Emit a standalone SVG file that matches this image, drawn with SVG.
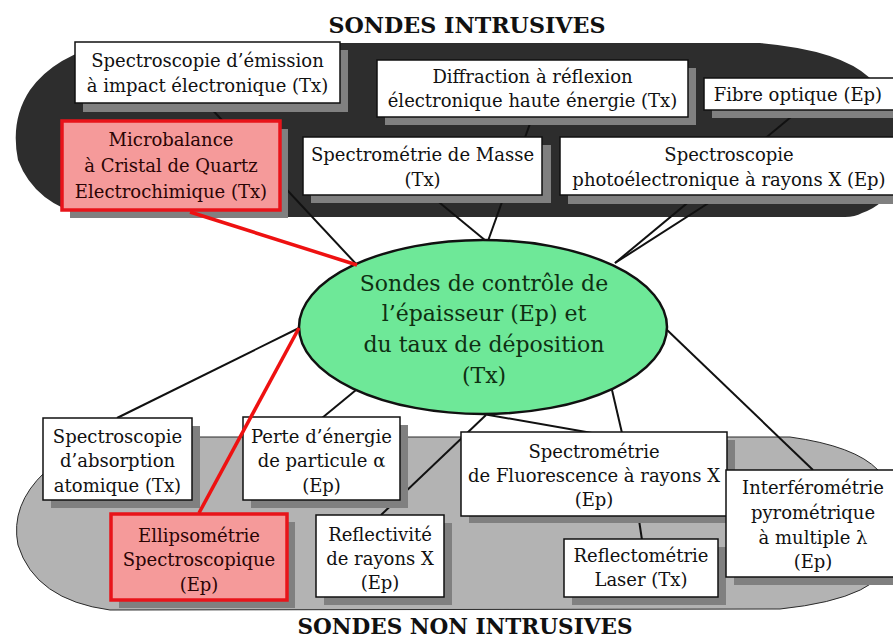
<svg xmlns="http://www.w3.org/2000/svg" width="893" height="641" viewBox="0 0 893 641">
<style>
.t{font-family:"DejaVu Serif","Liberation Serif",serif;font-size:18px;fill:#111;text-anchor:middle}
.tr{font-family:"DejaVu Serif","Liberation Serif",serif;font-size:18px;fill:#2a0505;text-anchor:middle}
.te{font-family:"DejaVu Serif","Liberation Serif",serif;font-size:22px;fill:#0f2f12;text-anchor:middle}
.title{font-family:"DejaVu Serif","Liberation Serif",serif;font-size:22px;font-weight:bold;fill:#111;text-anchor:middle}
.box{fill:#fff;stroke:#111;stroke-width:1.5}
.rbox{fill:#f59a9a;stroke:#e8141a;stroke-width:3.5}
.sh{fill:#808080}
.ln{stroke:#111;stroke-width:2;fill:none}
.rl{stroke:#ee1111;stroke-width:3.5;fill:none}
</style>
<rect width="893" height="641" fill="#fff"/>
<g id="background">
<path d="M110,43 L760,43 Q840,50 870,78 L893,110 L893,185 Q885,205 862,213 Q855,217 845,217 L90,217 Q35,205 18,160 Q10,120 30,90 Q55,55 110,43 Z" fill="#2d2d2d"/>
<path d="M150,437 L790,437 Q855,446 878,470 Q893,495 891,555 Q885,598 780,609 L110,610 Q35,600 18,545 Q10,505 45,472 Q80,440 150,437 Z" fill="#b3b3b3" stroke="#2a2a2a" stroke-width="1"/>
</g>
<text class="title" x="467" y="33" textLength="277" lengthAdjust="spacingAndGlyphs">SONDES INTRUSIVES</text>
<text class="title" x="465" y="634" textLength="335" lengthAdjust="spacingAndGlyphs">SONDES NON INTRUSIVES</text>
<g id="connectors">
<line class="ln" x1="207" y1="104" x2="357" y2="265"/>
<line class="ln" x1="532" y1="118" x2="488" y2="241"/>
<line class="ln" x1="400" y1="170" x2="486" y2="241"/>
<line class="ln" x1="760" y1="170" x2="615" y2="263"/>
<line class="ln" x1="797" y1="112" x2="615" y2="263"/>
<line class="ln" x1="665" y1="328" x2="813" y2="470"/>
<line class="ln" x1="612" y1="390" x2="622" y2="433"/>
<line class="ln" x1="483" y1="414" x2="592" y2="433"/>
<line class="ln" x1="486" y1="415" x2="381" y2="515"/>
<line class="ln" x1="356" y1="390" x2="322" y2="418"/>
<line class="ln" x1="299" y1="328" x2="117" y2="418"/>
<line class="ln" x1="639" y1="520" x2="642" y2="540"/>
</g>
<g id="n-center">
<ellipse cx="483" cy="327" rx="184" ry="87" fill="#6ee898" stroke="#111" stroke-width="2.5"/>
<text class="te" x="484" y="291">Sondes de contrôle de</text>
<text class="te" x="484" y="321">l’épaisseur (Ep) et</text>
<text class="te" x="484" y="352">du taux de déposition</text>
<text class="te" x="484" y="383">(Tx)</text>
</g>
<g id="n-emission">
<rect class="sh" x="83" y="50" width="265" height="62"/>
<rect class="box" x="75" y="42" width="265" height="61"/>
<text class="t" x="207.5" y="67">Spectroscopie d’émission</text>
<text class="t" x="207.5" y="92">à impact électronique (Tx)</text>
</g>
<g id="n-diffraction">
<rect class="sh" x="385" y="68" width="311" height="57"/>
<rect class="box" x="377" y="60" width="311" height="57"/>
<text class="t" x="532.5" y="83">Diffraction à réflexion</text>
<text class="t" x="532.5" y="107">électronique haute énergie (Tx)</text>
</g>
<g id="n-fibre">
<rect class="sh" x="712" y="86" width="190" height="32"/>
<rect class="box" x="704" y="78" width="195" height="32"/>
<text class="t" x="798" y="101">Fibre optique (Ep)</text>
</g>
<g id="n-microbalance">
<rect class="sh" x="70" y="129" width="218" height="89"/>
<rect class="rbox" x="62" y="121" width="218" height="89"/>
<text class="tr" x="171" y="146">Microbalance</text>
<text class="tr" x="171" y="172">à Cristal de Quartz</text>
<text class="tr" x="171" y="198">Electrochimique (Tx)</text>
</g>
<g id="n-masse">
<rect class="sh" x="311" y="145" width="240" height="58"/>
<rect class="box" x="303" y="137" width="239" height="58"/>
<text class="t" x="422.5" y="161">Spectrométrie de Masse</text>
<text class="t" x="422.5" y="186">(Tx)</text>
</g>
<g id="n-photo">
<rect class="sh" x="568" y="145" width="340" height="59"/>
<rect class="box" x="560" y="137" width="340" height="58"/>
<text class="t" x="729" y="161">Spectroscopie</text>
<text class="t" x="729" y="186">photoélectronique à rayons X (Ep)</text>
</g>
<g id="n-absorption">
<rect class="sh" x="51" y="426" width="149" height="82"/>
<rect class="box" x="43" y="418" width="149" height="82"/>
<text class="t" x="117.5" y="443">Spectroscopie</text>
<text class="t" x="117.5" y="467">d’absorption</text>
<text class="t" x="117.5" y="492">atomique (Tx)</text>
</g>
<g id="n-perte">
<rect class="sh" x="251" y="425" width="157" height="83"/>
<rect class="box" x="243" y="417" width="157" height="83"/>
<text class="t" x="321.5" y="443">Perte d’énergie</text>
<text class="t" x="321.5" y="467">de particule α</text>
<text class="t" x="321.5" y="492">(Ep)</text>
</g>
<g id="n-ellipsometrie">
<rect class="sh" x="119" y="522" width="176" height="86"/>
<rect class="rbox" x="111" y="514" width="176" height="86"/>
<text class="tr" x="199" y="542">Ellipsométrie</text>
<text class="tr" x="199" y="566">Spectroscopique</text>
<text class="tr" x="199" y="591">(Ep)</text>
</g>
<g id="n-reflectivite">
<rect class="sh" x="324" y="523" width="128" height="82"/>
<rect class="box" x="316" y="515" width="128" height="82"/>
<text class="t" x="380" y="541">Reflectivité</text>
<text class="t" x="380" y="565">de rayons X</text>
<text class="t" x="380" y="589">(Ep)</text>
</g>
<g id="n-fluorescence">
<rect class="sh" x="469" y="440" width="266" height="83"/>
<rect class="box" x="461" y="432" width="266" height="84"/>
<text class="t" x="594" y="458">Spectrométrie</text>
<text class="t" x="594" y="482">de Fluorescence à rayons X</text>
<text class="t" x="594" y="506">(Ep)</text>
</g>
<g id="n-reflectometrie">
<rect class="sh" x="572" y="547" width="154" height="58"/>
<rect class="box" x="564" y="539" width="154" height="58"/>
<text class="t" x="641" y="562">Reflectométrie</text>
<text class="t" x="641" y="586">Laser (Tx)</text>
</g>
<g id="n-interferometrie">
<rect class="sh" x="734" y="478" width="170" height="107"/>
<rect class="box" x="726" y="470" width="175" height="107"/>
<text class="t" x="813" y="494">Interférométrie</text>
<text class="t" x="813" y="519">pyrométrique</text>
<text class="t" x="813" y="544">à multiple λ</text>
<text class="t" x="813" y="568">(Ep)</text>
</g>
<g id="red-connectors">
<line class="rl" x1="190" y1="212" x2="357" y2="265"/>
<line class="rl" x1="299" y1="328" x2="199" y2="513"/>
</g>
</svg>
